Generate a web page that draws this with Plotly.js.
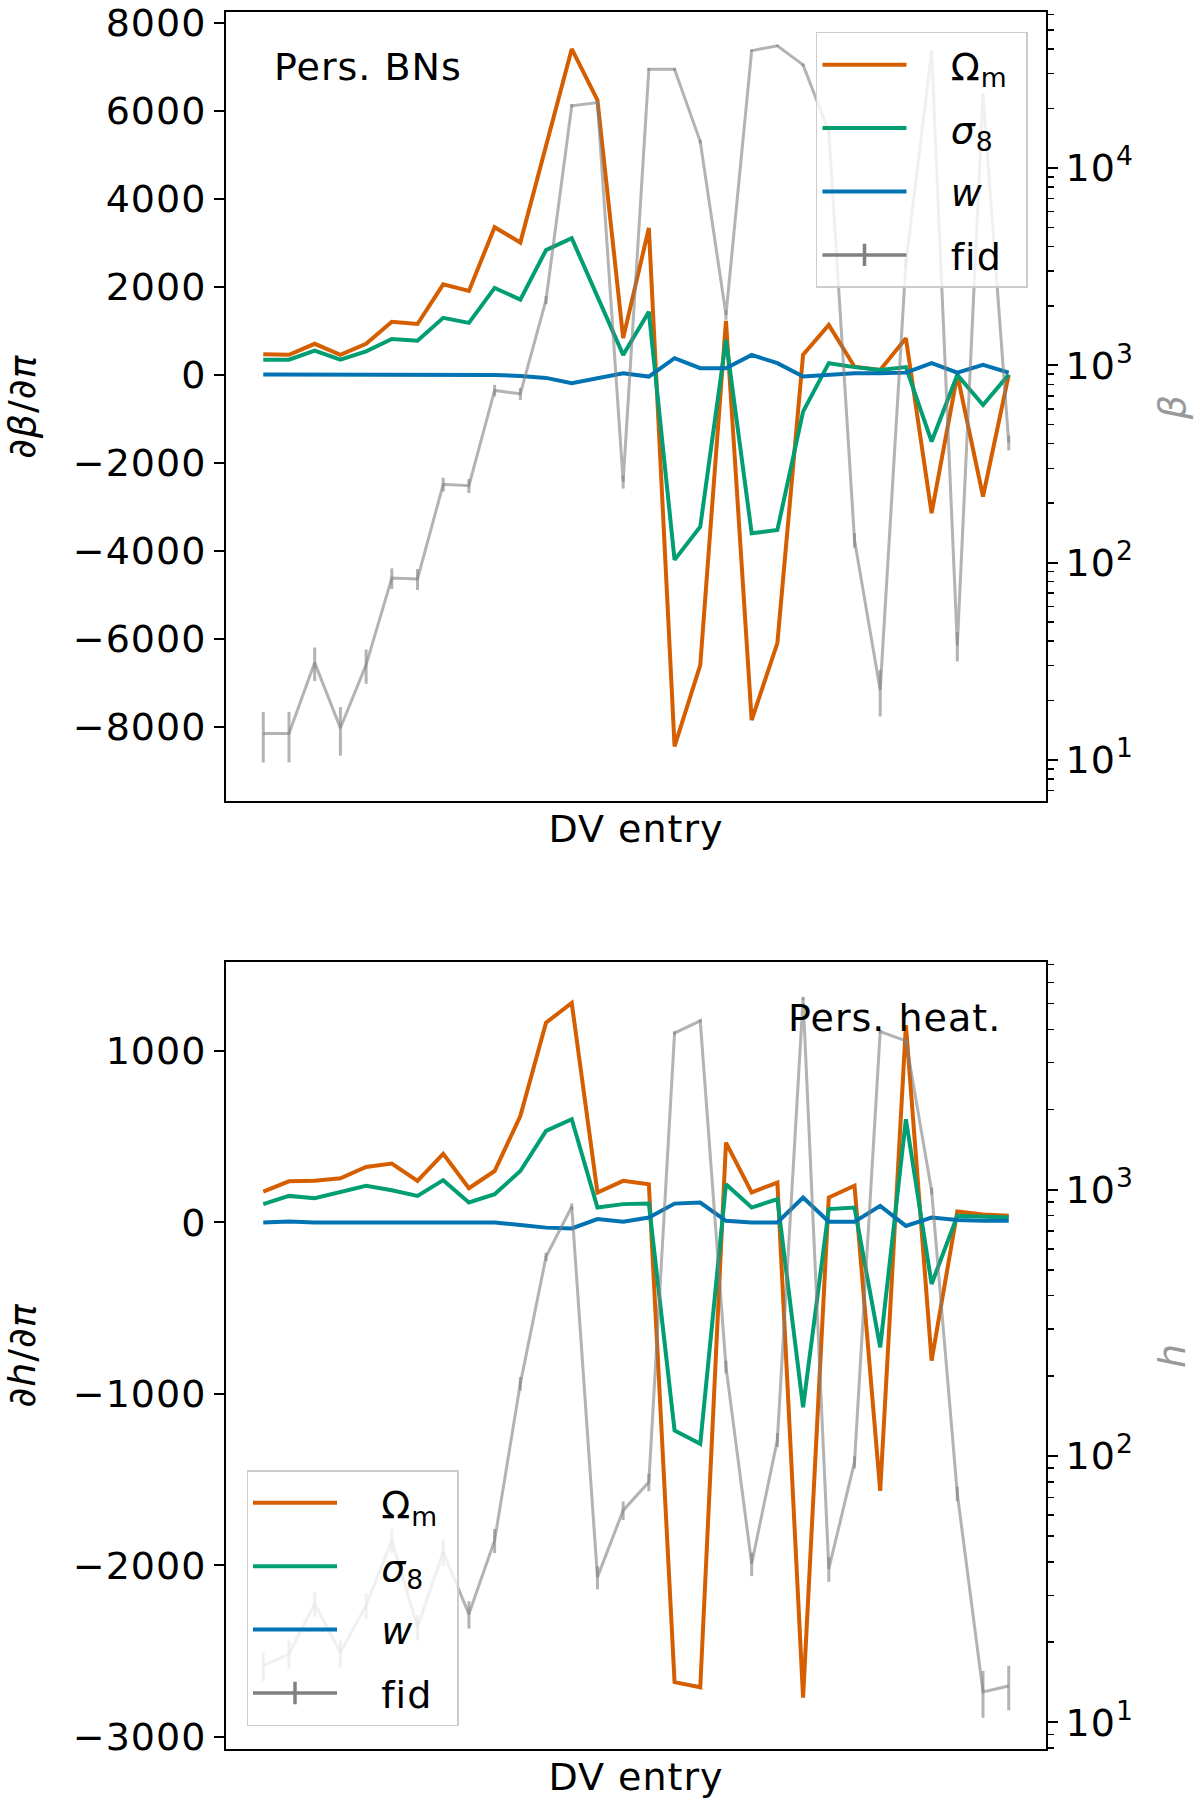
<!DOCTYPE html>
<html>
<head>
<meta charset="utf-8">
<script src="https://cdn.plot.ly/plotly-3.0.1.min.js"></script>
<style>
html,body{margin:0;padding:0;background:#fff;}
svg text{letter-spacing:1px;}
</style>
</head>
<body>
<div id="chart" style="width:1200px;height:1816px;"></div>
<script>
// ---------- data ----------
const dvEntry = [0,1,2,3,4,5,6,7,8,9,10,11,12,13,14,15,16,17,18,19,20,21,22,23,24,25,26,27,28,29];

// Top panel: persistence Betti numbers (BNs)
const omegaBN = [460,450,700,450,700,1200,1150,2050,1900,3350,3000,5200,7400,6240,830,3330,-8450,-6600,1220,-7850,-6100,450,1130,180,107,827,-3150,-7,-2770,-7];
const sigmaBN = [340,340,545,340,530,810,770,1290,1175,1970,1705,2830,3100,1780,448,1430,-4210,-3455,790,-3605,-3530,-840,260,170,107,170,-1520,-7,-690,0];
const wBN     = [0,0,0,0,0,0,0,0,0,-10,-30,-75,-196,-83,31,-45,372,145,145,448,259,-45,0,31,31,45,259,45,220,45];
const fidBN    = [13.6,13.6,31.1,14.5,30.3,83.4,82.6,249,245,745,716,2140,20650,21430,257,31600,31600,13600,1800,39260,41590,33270,15310,130,22.6,3300,38900,38,23400,405];
const fidBNErr = [3.9,3.9,6,4,6,10,10,20,20,50,50,100,400,400,20,500,500,300,100,500,500,500,300,11,6,150,500,6.5,400,35];

// Bottom panel: persistence heatmap
const omegaHeat = [180,240,243,258,324,344,243,400,200,300,620,1165,1280,175,243,223,-2680,-2710,466,175,233,-2770,146,214,-1565,1150,-805,64,47,39];
const sigmaHeat = [107,155,142,180,214,188,155,247,117,165,300,534,602,87,107,110,-1213,-1291,223,87,136,-1077,78,87,-728,602,-359,39,32,29];
const wHeat     = [0,5,0,0,5,5,0,0,0,0,-15,-30,-35,20,5,29,110,116,10,0,0,145,5,5,97,-20,29,14,10,10];
const fidHeat    = [16.3,18.1,27.9,18.3,27.5,48.2,22.8,43.6,25.5,48.2,187,560,863,35.1,62.5,79.8,3873,4305,216,39.4,115,5236,37.7,94.8,3926,3622,989,72.1,13.0,13.7];
const fidHeatErr = [2,2.2,3,2.2,3,5,2.5,5,3,5,11,20,25,3.5,5,6,60,60,12,4,7,70,4,5,60,60,30,4.5,2.6,2.6];

const seriesNames = ['Ω<sub>m</sub>', '<i>σ</i><sub>8</sub>', '<i>w</i>', 'fid'];
const logTickVals = [10, 100, 1000, 10000];
const logTickText = ['10<sup>1</sup>', '10<sup>2</sup>', '10<sup>3</sup>', '10<sup>4</sup>'];

// ---------- style ----------
const FONT = 'DejaVu Sans, Verdana, sans-serif';
const FS = 38;
const C_OM = '#D55E00', C_S8 = '#029E73', C_W = '#0173B2';
const C_FID = 'rgba(128,128,128,0.6)', C_FIDLEG = '#808080';
const PAD = '\u00a0\u00a0\u00a0';
const TAIL = '\u00a0';

const minorVals = [];
for (let e = 0; e < 5; e++) for (let m = 2; m <= 9; m++) minorVals.push(m * Math.pow(10, e));

function lineTrace(y, name, color, xa, ya, leg, grp) {
  return {x: dvEntry, y: y, type: 'scatter', mode: 'lines', name: PAD + name + TAIL,
    line: {color: color, width: 4}, xaxis: xa, yaxis: ya, legend: leg, legendgroup: grp, hoverinfo: 'skip'};
}
function fidTrace(y, err, xa, ya) {
  return {x: dvEntry, y: y, type: 'scatter', mode: 'lines', name: 'fid', showlegend: false,
    line: {color: C_FID, width: 3}, xaxis: xa, yaxis: ya,
    error_y: {type: 'data', array: err, visible: true, color: C_FID, thickness: 3, width: 0}, hoverinfo: 'skip'};
}
function fidLegend(xa, ya, leg, grp) {
  return {x: [null], y: [null], type: 'scatter', mode: 'lines+markers', name: PAD + seriesNames[3] + TAIL,
    line: {color: C_FIDLEG, width: 3.5}, marker: {symbol: 'line-ns-open', size: 16, color: C_FIDLEG, line: {color: C_FIDLEG, width: 3.5}},
    xaxis: xa, yaxis: ya, legend: leg, legendgroup: grp};
}

const traces = [
  lineTrace(omegaBN, seriesNames[0], C_OM, 'x', 'y', 'legend', 'a'),
  lineTrace(sigmaBN, seriesNames[1], C_S8, 'x', 'y', 'legend', 'b'),
  lineTrace(wBN, seriesNames[2], C_W, 'x', 'y', 'legend', 'c'),
  fidTrace(fidBN, fidBNErr, 'x', 'y2'),
  fidLegend('x', 'y2', 'legend', 'd'),
  lineTrace(omegaHeat, seriesNames[0], C_OM, 'x2', 'y3', 'legend2', 'e'),
  lineTrace(sigmaHeat, seriesNames[1], C_S8, 'x2', 'y3', 'legend2', 'f'),
  lineTrace(wHeat, seriesNames[2], C_W, 'x2', 'y3', 'legend2', 'g'),
  fidTrace(fidHeat, fidHeatErr, 'x2', 'y4'),
  fidLegend('x2', 'y4', 'legend2', 'h')
];

const axFont = {family: FONT, size: FS, color: '#000'};
function xAxis(anchor) {
  return {domain: [0, 1], anchor: anchor, range: [-1.45, 30.45], showline: true, mirror: true,
    linecolor: '#000', linewidth: 2, ticks: '', showticklabels: false, showgrid: false, zeroline: false,
    title: {text: 'DV entry', font: axFont, standoff: 13}};
}
function yLeft(domain, range, dtick, title) {
  return {domain: domain, range: range, dtick: dtick, tick0: 0, ticks: 'outside', ticklen: 10, tickwidth: 2,
    tickcolor: '#000', showline: true, linecolor: '#000', linewidth: 2, showgrid: false, zeroline: false,
    tickfont: axFont, title: {text: title, font: axFont, standoff: 34}};
}
function yRight(overlay, anchor, range, title) {
  return {overlaying: overlay, anchor: anchor, side: 'right', type: 'log', range: range,
    tickmode: 'array', tickvals: logTickVals, ticktext: logTickText,
    ticks: 'outside', ticklen: 10, tickwidth: 2, tickcolor: '#000', showline: true, linecolor: '#000', linewidth: 2,
    showgrid: false, zeroline: false, tickfont: axFont,
    minor: {tickmode: 'array', tickvals: minorVals, ticks: 'outside', ticklen: 6, tickwidth: 1.5, tickcolor: '#000', showgrid: false},
    title: {text: title, font: {family: FONT, size: FS, color: '#999999'}, standoff: 26}};
}
function legendCfg(x, y) {
  return {x: x, y: y, xanchor: 'left', yanchor: 'top', bgcolor: 'rgba(255,255,255,0.8)',
    bordercolor: '#cccccc', borderwidth: 1.5, font: {family: FONT, size: FS, color: '#000'},
    itemwidth: 84, tracegroupgap: 11};
}

const layout = {
  width: 1200, height: 1816,
  margin: {l: 226, r: 154, t: 12, b: 67},
  paper_bgcolor: '#fff', plot_bgcolor: 'rgba(0,0,0,0)',
  font: {family: FONT, size: FS, color: '#000'},
  showlegend: true,
  xaxis: xAxis('y'),
  yaxis: yLeft([0.5455, 1], [-9700, 8240], 2000, '<i>∂β</i>/<i>∂π</i>'),
  yaxis2: yRight('y', 'x', [0.789, 4.79], '<i>β</i>'),
  xaxis2: xAxis('y3'),
  yaxis3: yLeft([0, 0.4531], [-3070, 1519], 1000, '<i>∂h</i>/<i>∂π</i>'),
  yaxis4: yRight('y3', 'x2', [0.9, 3.855], '<i>h</i>'),
  legend: legendCfg(0.7195, 0.9885),
  legend2: legendCfg(0.025, 0.1606),
  annotations: [
    {text: 'Pers. BNs', xref: 'paper', yref: 'paper', x: 0.0561, y: 0.9683, xanchor: 'left', yanchor: 'middle',
     showarrow: false, font: {family: FONT, size: FS, color: '#000'}},
    {text: 'Pers. heat.', xref: 'paper', yref: 'paper', x: 0.9476, y: 0.4208, xanchor: 'right', yanchor: 'middle',
     showarrow: false, font: {family: FONT, size: FS, color: '#000'}}
  ]
};

Plotly.newPlot('chart', traces, layout, {displayModeBar: false, staticPlot: true});
</script>
</body>
</html>
